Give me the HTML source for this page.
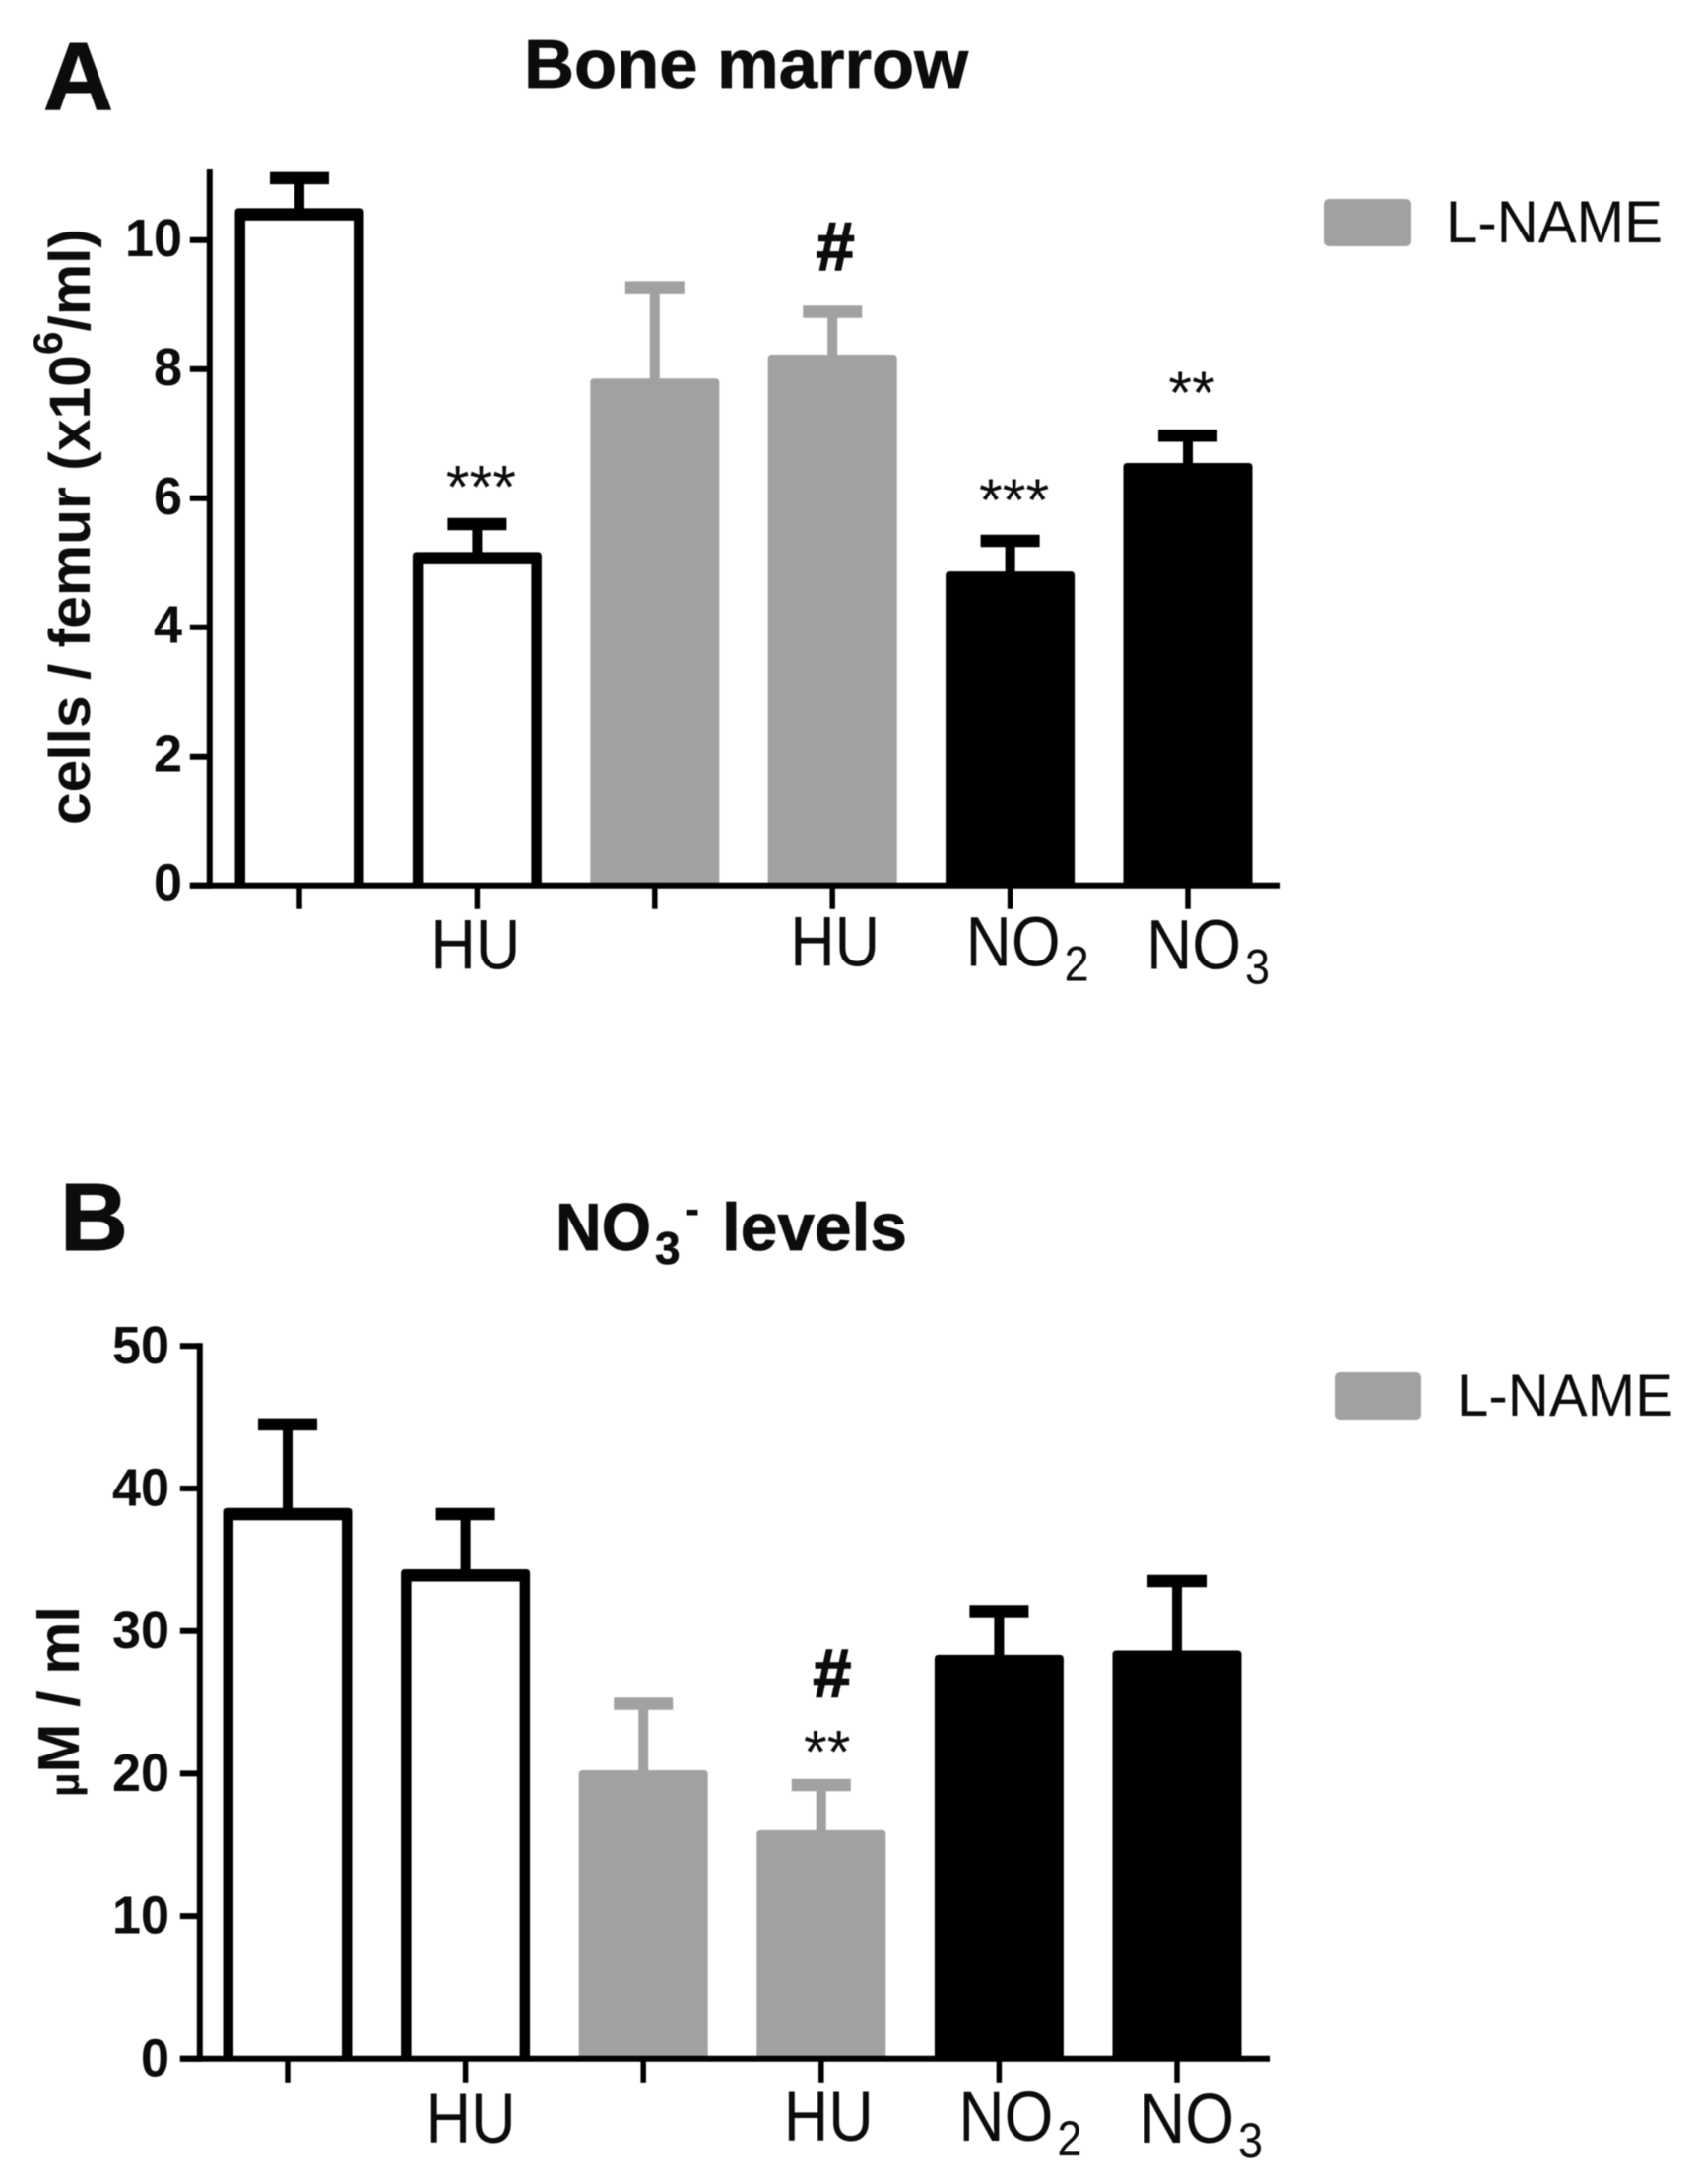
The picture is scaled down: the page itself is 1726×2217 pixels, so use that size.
<!DOCTYPE html>
<html lang="en">
<head>
<meta charset="utf-8">
<title>Bone marrow and NO3- levels</title>
<style>
html,body{margin:0;padding:0;background:#fff;}
svg{display:block;filter:blur(0.5px);}
text{font-family:"Liberation Sans",Arial,sans-serif;fill:#0c0c0c;}
.b{font-weight:bold;}
</style>
</head>
<body>
<svg id="figure" xmlns="http://www.w3.org/2000/svg" width="1726" height="2217" viewBox="0 0 1726 2217">
  <rect width="1726" height="2217" fill="#fff"/>

  <text class="b" x="44" y="111" font-size="97" textLength="71" lengthAdjust="spacingAndGlyphs" stroke="#0c0c0c" stroke-width="1">A</text>
  <text class="b" x="532" y="89" font-size="70" textLength="451" lengthAdjust="spacingAndGlyphs" stroke="#0c0c0c" stroke-width="0.8">Bone marrow</text>
  <text class="b" transform="translate(91,837) rotate(-90)" font-size="58" textLength="605" lengthAdjust="spacingAndGlyphs">cells / femur (x10<tspan font-size="42" dy="-28">6</tspan><tspan dy="28">/ml)</tspan></text>
  <rect x="1344" y="202" width="89" height="48" rx="5" fill="#a1a1a4"/>
  <text x="1468" y="246" font-size="60" textLength="220" lengthAdjust="spacingAndGlyphs">L-NAME</text>

  <text class="b" x="61" y="1269" font-size="97" textLength="69" lengthAdjust="spacingAndGlyphs" stroke="#0c0c0c" stroke-width="1">B</text>
  <text class="b" x="564" y="1269" font-size="68" textLength="97" lengthAdjust="spacingAndGlyphs" stroke="#0c0c0c" stroke-width="0.8">NO</text>
  <text class="b" x="665" y="1283" font-size="46" stroke="#0c0c0c" stroke-width="0.6">3</text>
  <text class="b" x="695" y="1243" font-size="46">-</text>
  <text class="b" x="733" y="1269" font-size="68" textLength="188" lengthAdjust="spacingAndGlyphs" stroke="#0c0c0c" stroke-width="0.8">levels</text>
  <text class="b" transform="translate(80,1824) rotate(-90)" font-size="59" textLength="194" lengthAdjust="spacingAndGlyphs"><tspan font-size="42">µ</tspan>M / ml</text>
  <rect x="1355" y="1393" width="88" height="48" rx="5" fill="#a1a1a4"/>
  <text x="1479" y="1437" font-size="60" textLength="220" lengthAdjust="spacingAndGlyphs">L-NAME</text>

  <g id="chart-a"></g>
  <g id="chart-b"></g>
</svg>
<script>
// Panel A data
const xLabelsA = ['', 'HU', '', 'HU', 'NO', 'NO'];
const xSubsA = ['', '', '', '', '2', '3'];
const meansA = [10.40, 5.07, 7.76, 8.13, 4.77, 6.45];
const errorTopsA = [10.96, 5.60, 9.27, 8.89, 5.34, 6.97];
const yTicksA = [0, 2, 4, 6, 8, 10];
const yTickLabelsA = ['0', '2', '4', '6', '8', '10'];
const yMaxA = 11.05;
const marksA = ['', '***', '', '#', '***', '**'];
const markLevelsA = [0, 5.86, 0, 9.54, 5.65, 7.32];

// Panel B data
const xLabelsB = ['', 'HU', '', 'HU', 'NO', 'NO'];
const xSubsB = ['', '', '', '', '2', '3'];
const meansB = [38.2, 33.9, 19.8, 15.6, 27.9, 28.2];
const errorTopsB = [44.5, 38.2, 24.9, 19.2, 31.4, 33.5];
const yTicksB = [0, 10, 20, 30, 40, 50];
const yTickLabelsB = ['0', '10', '20', '30', '40', '50'];
const yMaxB = 50;
const marksB = ['', '', '', '#', '', ''];
const markLevelsB = [0, 0, 0, 25.4, 0, 0];
const extraMarksB = ['', '', '', '**', '', ''];
const extraMarkLevelsB = [0, 0, 0, 20.1, 0, 0];

// Fill colour per bar group
const barStyles = ['open', 'open', 'gray', 'gray', 'black', 'black'];

const SVG_NS = 'http://www.w3.org/2000/svg';
const GRAY = '#a1a1a4';

function make(tag, parent, attrs) {
  const node = document.createElementNS(SVG_NS, tag);
  for (const k in attrs) node.setAttribute(k, attrs[k]);
  parent.appendChild(node);
  return node;
}

function drawChart(root, cfg) {
  const xOf = i => cfg.firstX + cfg.stepX * i;
  const yOf = v => cfg.y0 - v * cfg.unit;
  const halfOuter = 65.5;
  const sideWall = 10.5;
  const topWall = 12.5;

  cfg.means.forEach((m, i) => {
    const style = barStyles[i];
    const color = style === 'gray' ? GRAY : '#000';
    const cx = xOf(i);
    const top = yOf(m) - topWall / 2;

    const stem = make('line', root, {x1: cx, x2: cx, y1: yOf(m), y2: yOf(cfg.tops[i]), stroke: color, 'stroke-width': 10});
    
    

    const cap = make('line', root, {x1: cx - 30, x2: cx + 30, y1: yOf(cfg.tops[i]), y2: yOf(cfg.tops[i]), stroke: color, 'stroke-width': 12.5});
    
    

    const d = 'M' + (cx - halfOuter) + ',' + cfg.y0 + 'V' + (top + 4) + 'Q' + (cx - halfOuter) + ',' + top + ' ' + (cx - halfOuter + 4) + ',' + top +
      'H' + (cx + halfOuter - 4) + 'Q' + (cx + halfOuter) + ',' + top + ' ' + (cx + halfOuter) + ',' + (top + 4) + 'V' + cfg.y0 + 'Z';
    const bar = make('path', root, {d: d, fill: color});
    
    

    if (style === 'open') {
      const inner = make('rect', root, {
        x: cx - halfOuter + sideWall,
        y: top + topWall,
        width: 2 * (halfOuter - sideWall),
        height: cfg.y0 - top - topWall,
        fill: '#fff'
      });
      
      
    }

    const tick = make('line', root, {x1: cx, x2: cx, y1: cfg.y0, y2: cfg.y0 + 24, stroke: '#000', 'stroke-width': 5.5});
    
    
  });

  const yAxis = make('line', root, {x1: cfg.axisX, x2: cfg.axisX, y1: yOf(cfg.yMax) - 3, y2: cfg.y0 + 3, stroke: '#000', 'stroke-width': 6});
  
  

  const xAxis = make('line', root, {x1: cfg.axisX - 20, x2: cfg.axisRight, y1: cfg.y0, y2: cfg.y0, stroke: '#000', 'stroke-width': 6});
  
  

  cfg.yTicks.forEach((v, i) => {
    const t = make('line', root, {x1: cfg.axisX - 20, x2: cfg.axisX, y1: yOf(v), y2: yOf(v), stroke: '#000', 'stroke-width': 6});
    
    

    const txt = cfg.yTickLabels[i];
    const label = make('text', root, {
      x: cfg.labelRight,
      y: yOf(v) + cfg.labelDy,
      'text-anchor': 'end',
      'font-size': 54,
      'font-weight': 'bold',
      textLength: 29 * txt.length,
      lengthAdjust: 'spacingAndGlyphs'
    });
    label.textContent = txt;
    
    
  });

  cfg.xLabels.forEach((txt, i) => {
    if (!txt) return;
    const place = cfg.xPlace[i];
    const hasSub = !!cfg.xSubs[i];
    const label = make('text', root, {
      x: xOf(i) + place[0],
      y: cfg.y0 + place[1],
      'font-size': 71,
      textLength: hasSub ? 96 : 91,
      lengthAdjust: 'spacingAndGlyphs'
    });
    label.textContent = txt;
    
    

    if (hasSub) {
      const sub = make('text', root, {
        x: xOf(i) + place[0] + 100,
        y: cfg.y0 + place[1] + 15,
        'font-size': 50,
        textLength: 25,
        lengthAdjust: 'spacingAndGlyphs'
      });
      sub.textContent = cfg.xSubs[i];
      
      
    }
  });

  function drawMarks(list, levels, dx) {
    list.forEach((m, i) => {
      if (!m) return;
      const isHash = m === '#';
      const mark = make('text', root, {
        x: xOf(i) + (isHash ? dx.hash : dx.star),
        y: yOf(levels[i]),
        'text-anchor': 'middle',
        'font-size': isHash ? 70 : 61,
        'font-weight': isHash ? 'bold' : 'normal',
        stroke: isHash ? '#0c0c0c' : 'none',
        'stroke-width': isHash ? 1.5 : 0
      });
      mark.textContent = m;
      
      
    });
  }
  drawMarks(cfg.marks, cfg.markLevels, cfg.markDx);
  if (cfg.extraMarks) drawMarks(cfg.extraMarks, cfg.extraMarkLevels, cfg.markDx);
}

drawChart(document.getElementById('chart-a'), {
  firstX: 304, stepX: 180.4, y0: 898.7, unit: 65.49, axisX: 212.8, axisRight: 1300,
  labelRight: 185, labelDy: 16,
  means: meansA, tops: errorTopsA, yTicks: yTicksA, yTickLabels: yTickLabelsA, yMax: yMaxA,
  xLabels: xLabelsA, xSubs: xSubsA,
  xPlace: [null, [-47, 85], null, [-43, 82], [-45, 82], [-42, 85]],
  marks: marksA, markLevels: markLevelsA, markDx: {hash: 3, star: 4}
});

drawChart(document.getElementById('chart-b'), {
  firstX: 292, stepX: 180.6, y0: 2089.8, unit: 14.47, axisX: 202.8, axisRight: 1289,
  labelRight: 172, labelDy: 17.5,
  means: meansB, tops: errorTopsB, yTicks: yTicksB, yTickLabels: yTickLabelsB, yMax: yMaxB,
  xLabels: xLabelsB, xSubs: xSubsB,
  xPlace: [null, [-40, 85], null, [-38, 83], [-41, 83], [-38, 85]],
  marks: marksB, markLevels: markLevelsB, markDx: {hash: 11, star: 6},
  extraMarks: extraMarksB, extraMarkLevels: extraMarkLevelsB
});
</script>
</body>
</html>
